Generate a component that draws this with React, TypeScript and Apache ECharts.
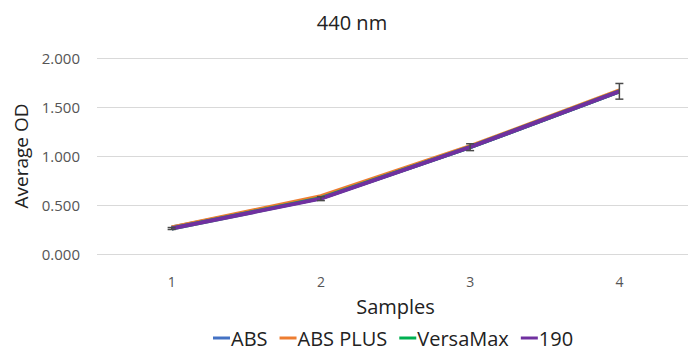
import React, { useEffect, useRef } from "react";
import * as echarts from "echarts";

const categories = ["1", "2", "3", "4"];
const absValues = [0.27, 0.57, 1.09, 1.66];
const absPlusValues = [0.27, 0.59, 1.1, 1.67];
const versaMaxValues = [0.26, 0.57, 1.09, 1.66];
const v190Values = [0.26, 0.565, 1.09, 1.66];
const errorValues = [0.01, 0.02, 0.035, 0.08];
const yTicks = [0, 0.5, 1, 1.5, 2];

const FONT = "Open Sans";

export default function App() {
  const ref = useRef<HTMLDivElement>(null);
  useEffect(() => {
    if (!ref.current) return;
    const chart = echarts.init(ref.current, undefined, { renderer: "svg" });
    const mk = (name: string, data: number[], color: string) => ({
      name,
      type: "line",
      data,
      symbol: "none",
      lineStyle: { color, width: 4 },
      itemStyle: { color },
      z: 3,
    });
    chart.setOption({
      animation: false,
      textStyle: { fontFamily: FONT },
      graphic: [
        {
          type: "text",
          x: 352,
          y: 22,
          style: {
            text: "440 nm",
            fontFamily: FONT,
            fontSize: 20,
            fill: "#222",
            align: "center",
            verticalAlign: "middle",
          },
        },
      ],
      legend: {
        top: 328,
        left: 213,
        padding: 0,
        icon: "rect",
        itemWidth: 17,
        itemHeight: 3,
        itemGap: 12,
        textStyle: { fontFamily: FONT, fontSize: 20, color: "#222", padding: [0, 0, 0, -4] },
        data: ["ABS", "ABS PLUS", "VersaMax", "190"],
      },
      grid: { left: 97, right: 0, top: 58, bottom: 98, containLabel: false },
      xAxis: {
        type: "category",
        data: categories,
        boundaryGap: true,
        name: "Samples",
        nameLocation: "middle",
        nameGap: 42,
        nameTextStyle: { fontFamily: FONT, fontSize: 20, color: "#222" },
        axisLine: { show: false },
        axisTick: { show: false },
        axisLabel: { fontFamily: FONT, fontSize: 14, color: "#555", margin: 20 },
      },
      yAxis: {
        type: "value",
        min: yTicks[0],
        max: yTicks[yTicks.length - 1],
        interval: 0.5,
        name: "Average OD",
        nameLocation: "middle",
        nameGap: 67,
        nameTextStyle: { fontFamily: FONT, fontSize: 19, color: "#222" },
        axisLabel: {
          fontFamily: FONT,
          fontSize: 15,
          color: "#555",
          margin: 17,
          formatter: (v: number) => v.toFixed(3),
        },
        splitLine: { lineStyle: { color: "#d9d9d9", width: 1 } },
      },
      series: [
        mk("ABS", absValues, "#4472C4"),
        mk("ABS PLUS", absPlusValues, "#ED7D31"),
        mk("VersaMax", versaMaxValues, "#00B050"),
        mk("190", v190Values, "#7030A0"),
        {
          type: "custom",
          name: "err",
          z: 4,
          data: v190Values.map((v, i) => [i, v - errorValues[i], v + errorValues[i]]),
          renderItem: (params: any, api: any) => {
            const x = api.value(0);
            const lo = api.coord([x, api.value(1)]);
            const hi = api.coord([x, api.value(2)]);
            const hw = 4;
            const style = { stroke: "#4a4a4a", lineWidth: 1.5 };
            return {
              type: "group",
              children: [
                { type: "line", shape: { x1: lo[0], y1: lo[1], x2: hi[0], y2: hi[1] }, style },
                { type: "line", shape: { x1: lo[0] - hw, y1: lo[1], x2: lo[0] + hw, y2: lo[1] }, style },
                { type: "line", shape: { x1: hi[0] - hw, y1: hi[1], x2: hi[0] + hw, y2: hi[1] }, style },
              ],
            };
          },
        },
      ],
    });
    return () => chart.dispose();
  }, []);
  return (
    <div style={{ width: 688, height: 352, position: "absolute", left: 0, top: 0, overflow: "hidden" }}>
      <div ref={ref} style={{ width: 694, height: 352 }} />
    </div>
  );
}
